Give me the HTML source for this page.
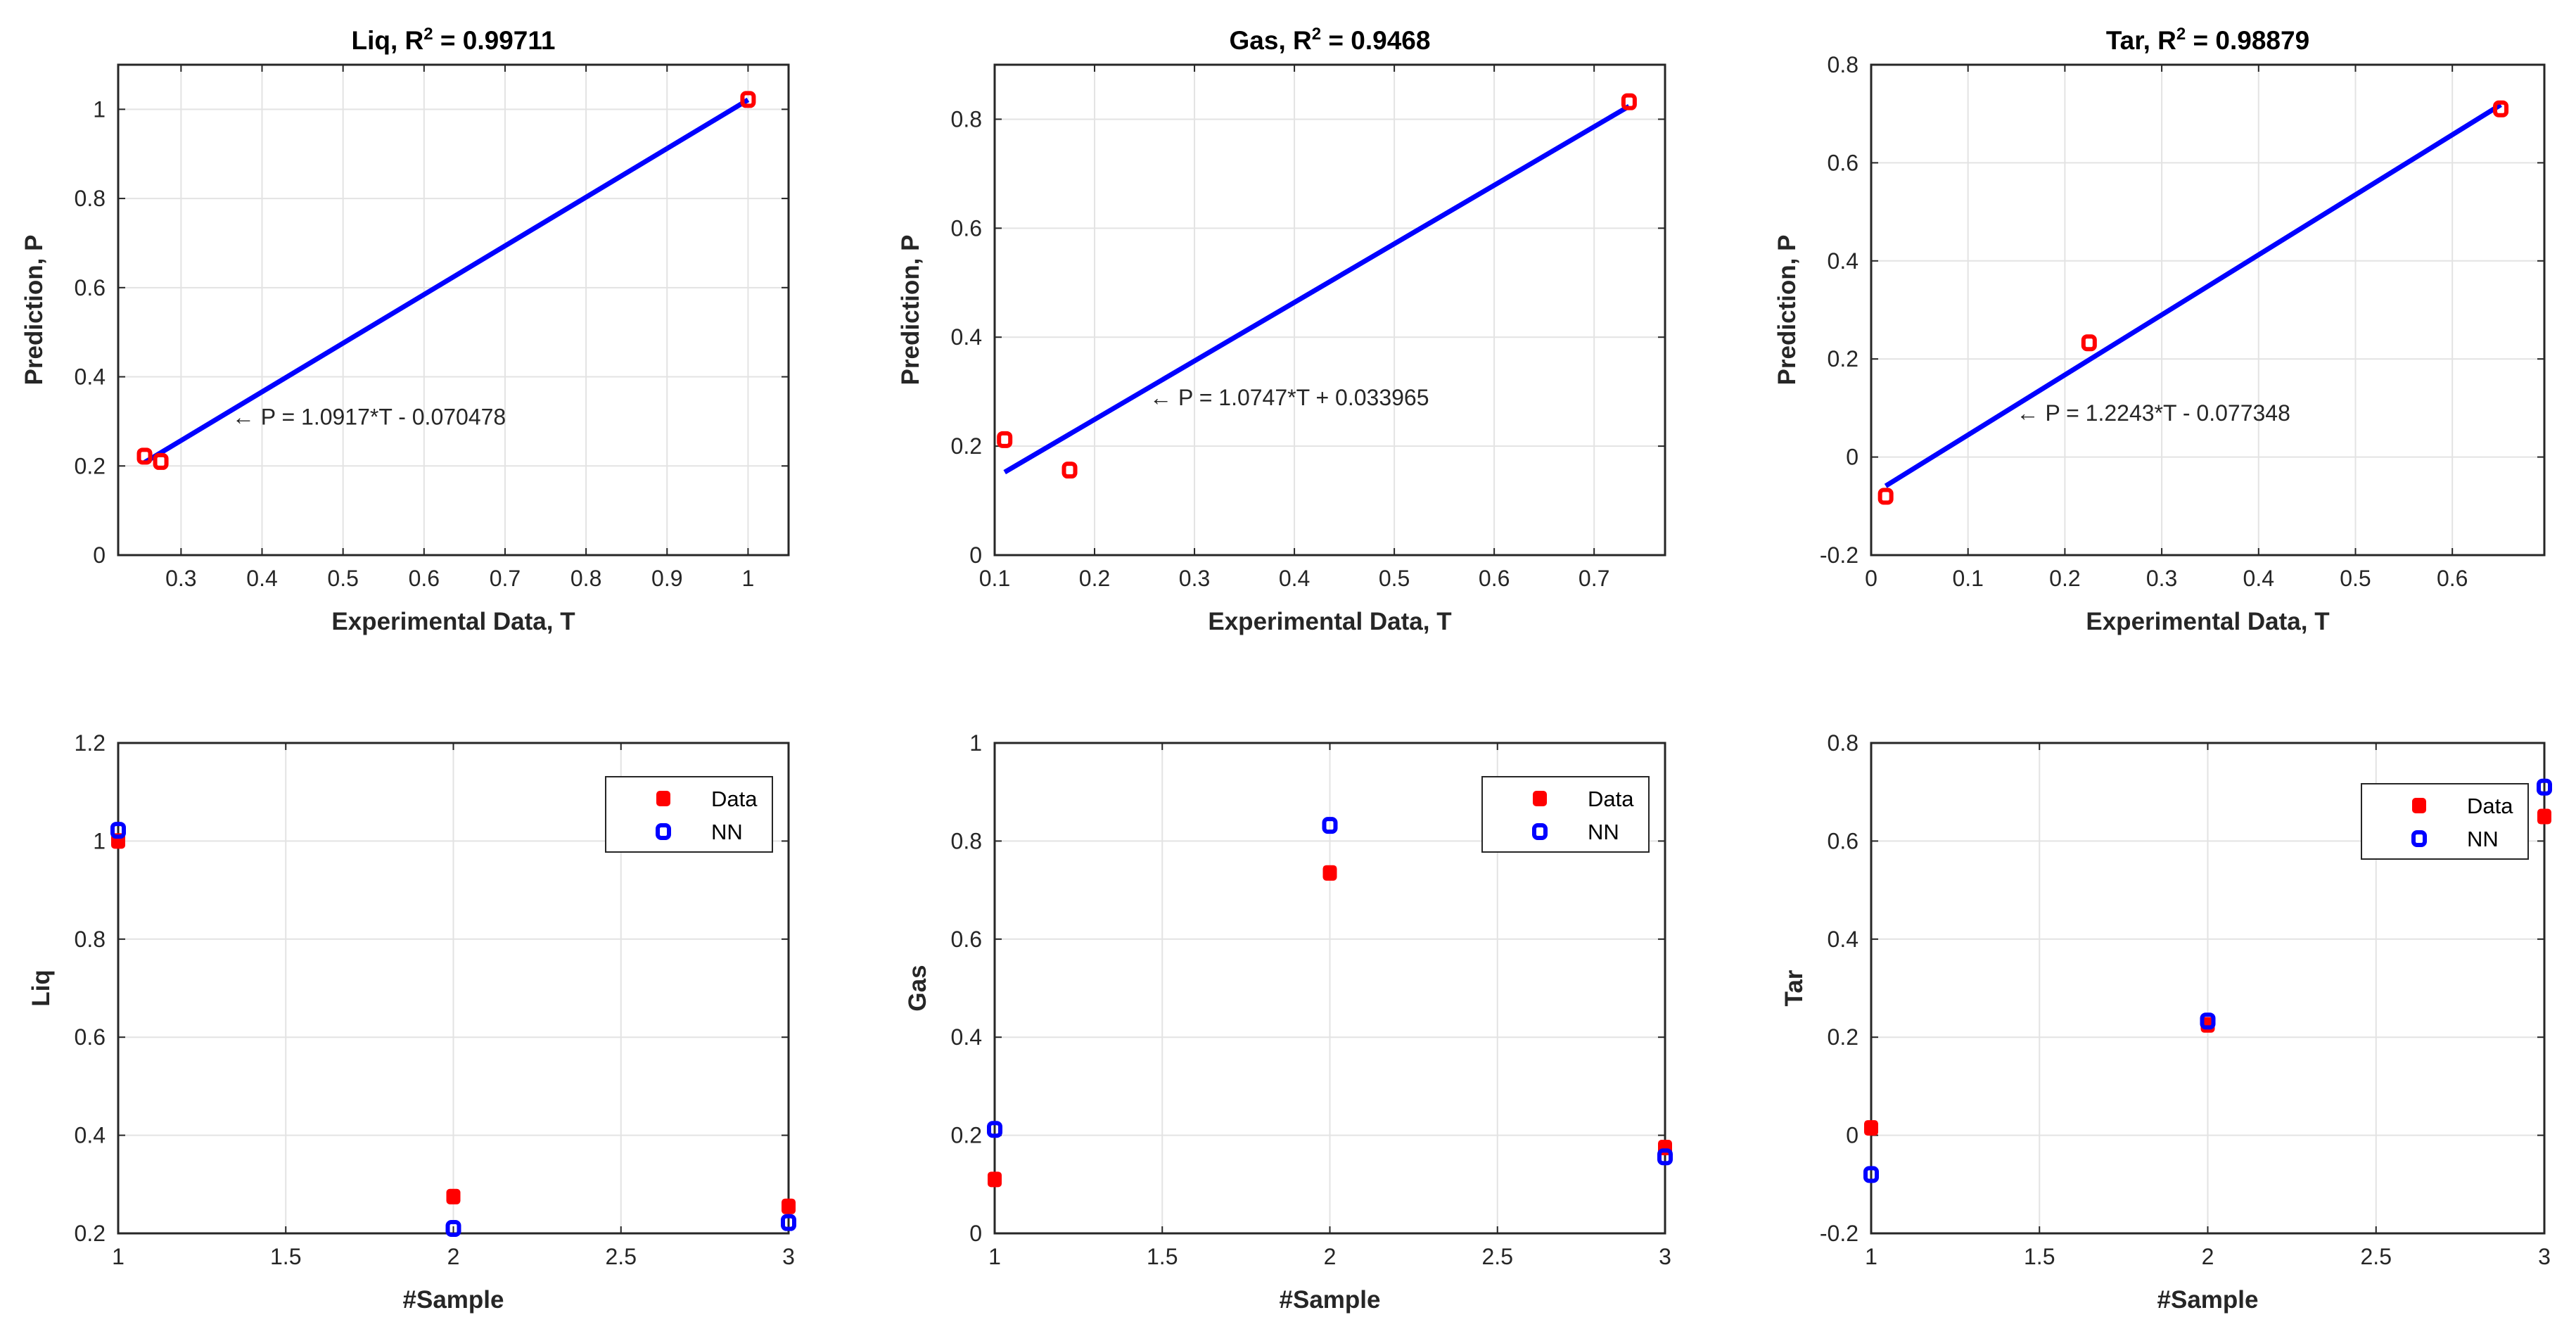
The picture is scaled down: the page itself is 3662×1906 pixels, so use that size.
<!DOCTYPE html>
<html><head><meta charset="utf-8"><style>
html,body{margin:0;padding:0;background:#fff;}
svg{display:block;font-family:"Liberation Sans",Arial,sans-serif;}
.tick{font-size:32px;fill:#262626;}
.lab{font-size:35px;font-weight:bold;fill:#262626;}
.ttl{font-size:37px;font-weight:bold;fill:#000;}
.ann{font-size:32px;fill:#262626;}
.leg{font-size:31px;fill:#000;}
</style></head><body>
<svg id="fig" width="3662" height="1906" viewBox="0 0 3662 1906" xmlns="http://www.w3.org/2000/svg"></svg>
<script>
// ---- data ----
const liqData = [1.0, 0.275, 0.255];
const liqNN = [1.022, 0.21, 0.222];
const gasData = [0.11, 0.735, 0.175];
const gasNN = [0.212, 0.832, 0.156];
const tarData = [0.015, 0.225, 0.65];
const tarNN = [-0.08, 0.233, 0.71];
const samples = [1, 2, 3];
const titles = ["Liq, R", "Gas, R", "Tar, R"];
const r2Values = ["0.99711", "0.9468", "0.98879"];
const fitSlopes = [1.0917, 1.0747, 1.2243];
const fitIntercepts = [-0.070478, 0.033965, -0.077348];
const fitLabels = ["P = 1.0917*T - 0.070478", "P = 1.0747*T + 0.033965", "P = 1.2243*T - 0.077348"];
const annX = [0.363, 0.255, 0.15];
const annY = [0.31, 0.289, 0.09];
const topXTicks = [[0.3,0.4,0.5,0.6,0.7,0.8,0.9,1],[0.1,0.2,0.3,0.4,0.5,0.6,0.7],[0,0.1,0.2,0.3,0.4,0.5,0.6]];
const topYTicks = [[0,0.2,0.4,0.6,0.8,1],[0,0.2,0.4,0.6,0.8],[-0.2,0,0.2,0.4,0.6,0.8]];
const topXLim = [[0.2224,1.05],[0.1,0.771],[0,0.695]];
const topYLim = [[0,1.1],[0,0.9],[-0.2,0.8]];
const botYTicks = [[0.2,0.4,0.6,0.8,1,1.2],[0,0.2,0.4,0.6,0.8,1],[-0.2,0,0.2,0.4,0.6,0.8]];
const botYLim = [[0.2,1.2],[0,1],[-0.2,0.8]];
const botXTicks = [1,1.5,2,2.5,3];
const botYLabels = ["Liq","Gas","Tar"];

const NS = "http://www.w3.org/2000/svg";
const svg = document.getElementById("fig");
function mk(tag, attrs, parent, text){
  const e = document.createElementNS(NS, tag);
  for (const k in attrs) e.setAttribute(k, attrs[k]);
  if (text !== undefined) e.textContent = text;
  (parent||svg).appendChild(e);
  return e;
}
const colsX = [[168,1121],[1414,2367],[2660,3617]];
const topRow = [92,789];
const botRow = [1056,1753];
const allData = [liqData, gasData, tarData];
const allNN = [liqNN, gasNN, tarNN];
function fmt(v){ return String(Math.round(v*10)/10); }

function axes(g, x0,x1,y0,y1, xlim, ylim, xt, yt){
  const sx = v => x0 + (v-xlim[0])/(xlim[1]-xlim[0])*(x1-x0);
  const sy = v => y1 - (v-ylim[0])/(ylim[1]-ylim[0])*(y1-y0);
  mk("rect",{x:x0,y:y0,width:x1-x0,height:y1-y0,fill:"#fff"},g);
  xt.forEach(v=>{
    const X=sx(v);
    const gl=mk("line",{x1:X,y1:y0,x2:X,y2:y1,stroke:"#e3e3e3","stroke-width":2},g);
    
    
    mk("line",{x1:X,y1:y1,x2:X,y2:y1-10,stroke:"#262626","stroke-width":2},g);
    mk("line",{x1:X,y1:y0,x2:X,y2:y0+10,stroke:"#262626","stroke-width":2},g);
    const t=mk("text",{x:X,y:y1+44,"text-anchor":"middle",class:"tick"},g,fmt(v));
    
    
  });
  yt.forEach(v=>{
    const Y=sy(v);
    const gl=mk("line",{x1:x0,y1:Y,x2:x1,y2:Y,stroke:"#e3e3e3","stroke-width":2},g);
    
    
    mk("line",{x1:x0,y1:Y,x2:x0+10,y2:Y,stroke:"#262626","stroke-width":2},g);
    mk("line",{x1:x1,y1:Y,x2:x1-10,y2:Y,stroke:"#262626","stroke-width":2},g);
    const t=mk("text",{x:x0-18,y:Y+11,"text-anchor":"end",class:"tick"},g,fmt(v));
    
    
  });
  const b=mk("rect",{x:x0,y:y0,width:x1-x0,height:y1-y0,fill:"none",stroke:"#262626","stroke-width":3},g);
  
  
  return [sx,sy];
}
function ring(g,X,Y,color){
  return mk("rect",{x:X-8,y:Y-9,width:16,height:18,rx:5,fill:"none",stroke:color,"stroke-width":6},g);
}
function blob(g,X,Y,color){
  return mk("rect",{x:X-10,y:Y-11,width:20,height:22,rx:5,fill:color},g);
}

for (let i=0;i<3;i++){
  const [x0,x1]=colsX[i];
  const g=mk("g",{});
  
  
  const [y0,y1]=topRow;
  const [sx,sy]=axes(g,x0,x1,y0,y1,topXLim[i],topYLim[i],topXTicks[i],topYTicks[i]);
  const T=allData[i], P=allNN[i];
  const tmin=Math.min(...T), tmax=Math.max(...T);
  const fl=mk("line",{x1:sx(tmin),y1:sy(fitSlopes[i]*tmin+fitIntercepts[i]),x2:sx(tmax),y2:sy(fitSlopes[i]*tmax+fitIntercepts[i]),stroke:"#0000ff","stroke-width":7},g);
  
  
  for(let k=0;k<T.length;k++){
    const m=ring(g,sx(T[k]),sy(P[k]),"#ff0000");
    
    
  }
  const an=mk("text",{x:sx(annX[i]),y:sy(annY[i])+11,class:"ann"},g,"\u2190 "+fitLabels[i]);
  
  
  const tt=mk("text",{x:(x0+x1)/2,y:y0-22,"text-anchor":"middle",class:"ttl"},g);
  
  
  mk("tspan",{},tt,titles[i]);
  mk("tspan",{dy:-14,"font-size":24},tt,"2");
  mk("tspan",{dy:14},tt," = "+r2Values[i]);
  const xl=mk("text",{x:(x0+x1)/2,y:y1+106,"text-anchor":"middle",class:"lab"},g,"Experimental Data, T");
  
  
  const yc=(y0+y1)/2, yx=x0-108;
  const yl=mk("text",{x:yx,y:yc,"text-anchor":"middle",class:"lab",transform:`rotate(-90 ${yx} ${yc})`},g,"Prediction, P");
  
  

  const h=mk("g",{});
  
  
  const [b0,b1]=botRow;
  const [bx,by]=axes(h,x0,x1,b0,b1,[1,3],botYLim[i],botXTicks,botYTicks[i]);
  for(let k=0;k<samples.length;k++){
    const d=blob(h,bx(samples[k]),by(T[k]),"#ff0000");
    
    
  }
  for(let k=0;k<samples.length;k++){
    const n=ring(h,bx(samples[k]),by(P[k]),"#0000ff");
    
    
  }
  const bxl=mk("text",{x:(x0+x1)/2,y:b1+106,"text-anchor":"middle",class:"lab"},h,"#Sample");
  
  
  const byc=(b0+b1)/2, byx=x0-98;
  const byl=mk("text",{x:byx,y:byc,"text-anchor":"middle",class:"lab",transform:`rotate(-90 ${byx} ${byc})`},h,botYLabels[i]);
  
  
  const lg=mk("g",{},h);
  
  
  const lx=x1-260, ly=b0+48+(i===2?10:0);
  mk("rect",{x:lx,y:ly,width:237,height:107,fill:"#fff",stroke:"#262626","stroke-width":2},lg);
  const e1=blob(lg,lx+82,ly+31,"#ff0000");
  
  
  const t1=mk("text",{x:lx+150,y:ly+42,class:"leg"},lg,"Data");
  
  
  const e2=ring(lg,lx+82,ly+78,"#0000ff");
  
  
  const t2=mk("text",{x:lx+150,y:ly+89,class:"leg"},lg,"NN");
  
  
}
</script>
</body></html>
